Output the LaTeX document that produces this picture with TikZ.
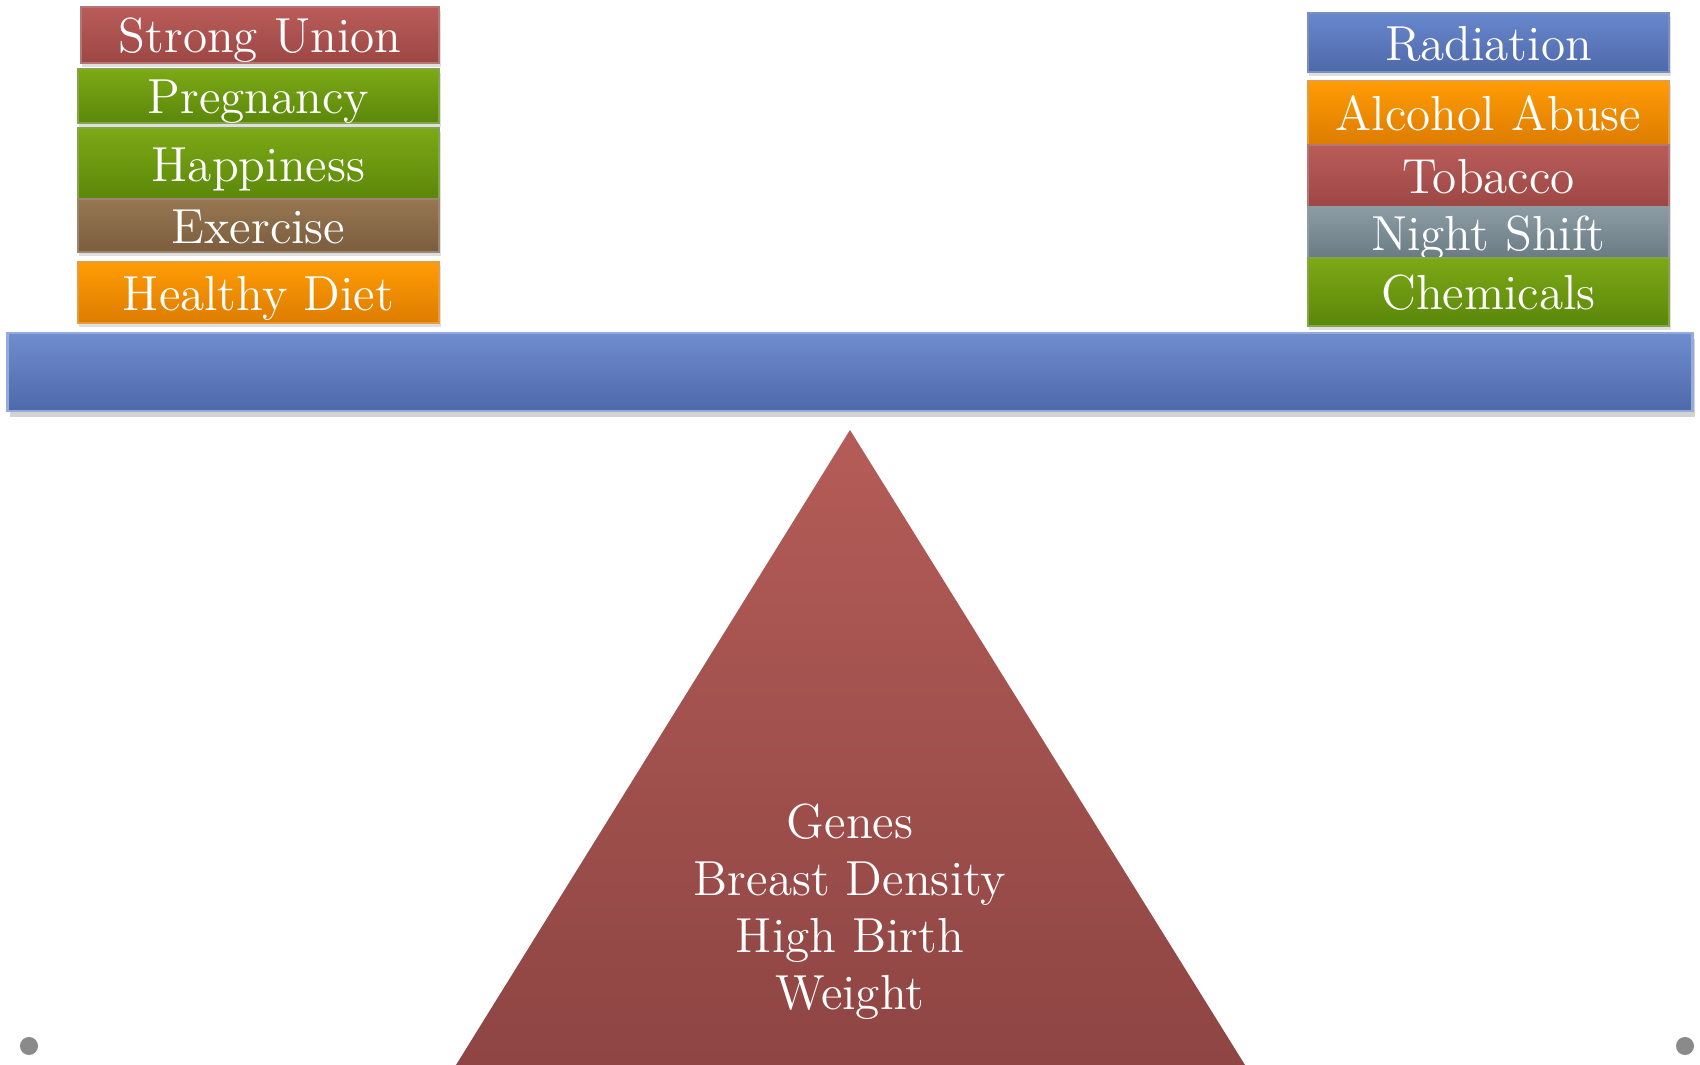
\documentclass[tikz,border=0pt]{standalone}
\usepackage{tikz}
\usetikzlibrary{shadows}

\definecolor{redTop}{HTML}{B95C59}
\definecolor{redBot}{HTML}{9C4745}
\definecolor{greenTop}{HTML}{7CA915}
\definecolor{greenBot}{HTML}{5B870B}
\definecolor{brownTop}{HTML}{977752}
\definecolor{brownBot}{HTML}{7B5D3E}
\definecolor{orangeTop}{HTML}{FF9C05}
\definecolor{orangeBot}{HTML}{DD7C00}
\definecolor{blueTop}{HTML}{6887CD}
\definecolor{blueBot}{HTML}{4E69AA}
\definecolor{grayTop}{HTML}{8C9CA4}
\definecolor{grayBot}{HTML}{6B7B83}
\definecolor{pyrTop}{HTML}{B45C58}
\definecolor{pyrBot}{HTML}{8E4543}
\definecolor{dotGray}{HTML}{8A8A8A}

\tikzset{
  factor/.style 2 args={top color=#1, bottom color=#2, draw=#2!75!white,
    line width=0.6pt, text=white, inner sep=0pt, minimum width=3.61cm,
    text height=10.2pt, text depth=0pt,
    font=\fontsize{14}{16}\selectfont,
    drop shadow={shadow xshift=0.4pt, shadow yshift=-1.2pt, opacity=0.25}},
  beam/.style={top color=blueTop!95!white, bottom color=blueBot, draw=blueTop!70!white,
    line width=0.6pt, inner sep=0pt, minimum width=16.84cm, minimum height=0.78cm,
    drop shadow={shadow xshift=0.6pt, shadow yshift=-1.8pt, opacity=0.35}},
  dot/.style={circle, fill=dotGray, inner sep=0pt, minimum size=0.18cm}
}

\begin{document}
\begin{tikzpicture}[x=0.01cm,y=-0.01cm]
\useasboundingbox (0,0) rectangle (1700,1065);

\node[factor={redTop}{redBot}, minimum width=3.58cm, minimum height=0.56cm] (union) at (260,35) {Strong Union};
\node[factor={greenTop}{greenBot}, minimum height=0.54cm] (pregnancy) at (258.5,96) {Pregnancy};
\node[factor={greenTop}{greenBot}, minimum height=0.71cm] (happiness) at (258.5,163.5) {Happiness};
\node[factor={brownTop}{brownBot}, minimum height=0.53cm] (exercise) at (258.5,225.5) {Exercise};
\node[factor={orangeTop}{orangeBot}, minimum height=0.61cm] (diet) at (258.5,292.5) {Healthy Diet};

\node[factor={blueTop}{blueBot}, minimum height=0.59cm] (radiation) at (1488.5,42.5) {Radiation};
\node[factor={orangeTop}{orangeBot}, minimum height=0.64cm] (alcohol) at (1488.5,113) {Alcohol Abuse};
\node[factor={redTop}{redBot}, minimum height=0.62cm] (tobacco) at (1488.5,176) {Tobacco};
\node[factor={grayTop}{grayBot}, minimum height=0.51cm] (nightshift) at (1488.5,232.5) {Night Shift};
\node[factor={greenTop}{greenBot}, minimum height=0.68cm] (chemicals) at (1488.5,292) {Chemicals};

\node[beam] (scale) at (850,372) {};

\shade[top color=pyrTop, bottom color=pyrBot] (850,430) -- (456,1065) -- (1245,1065) -- cycle;
\node[text=white, align=center, font=\fontsize{14}{16.2}\selectfont] (fixed) at (850,912)
  {Genes\\Breast Density\\High Birth\\Weight};

\node[dot] (dotL) at (29,1046) {};
\node[dot] (dotR) at (1685,1046) {};
\end{tikzpicture}
\end{document}
